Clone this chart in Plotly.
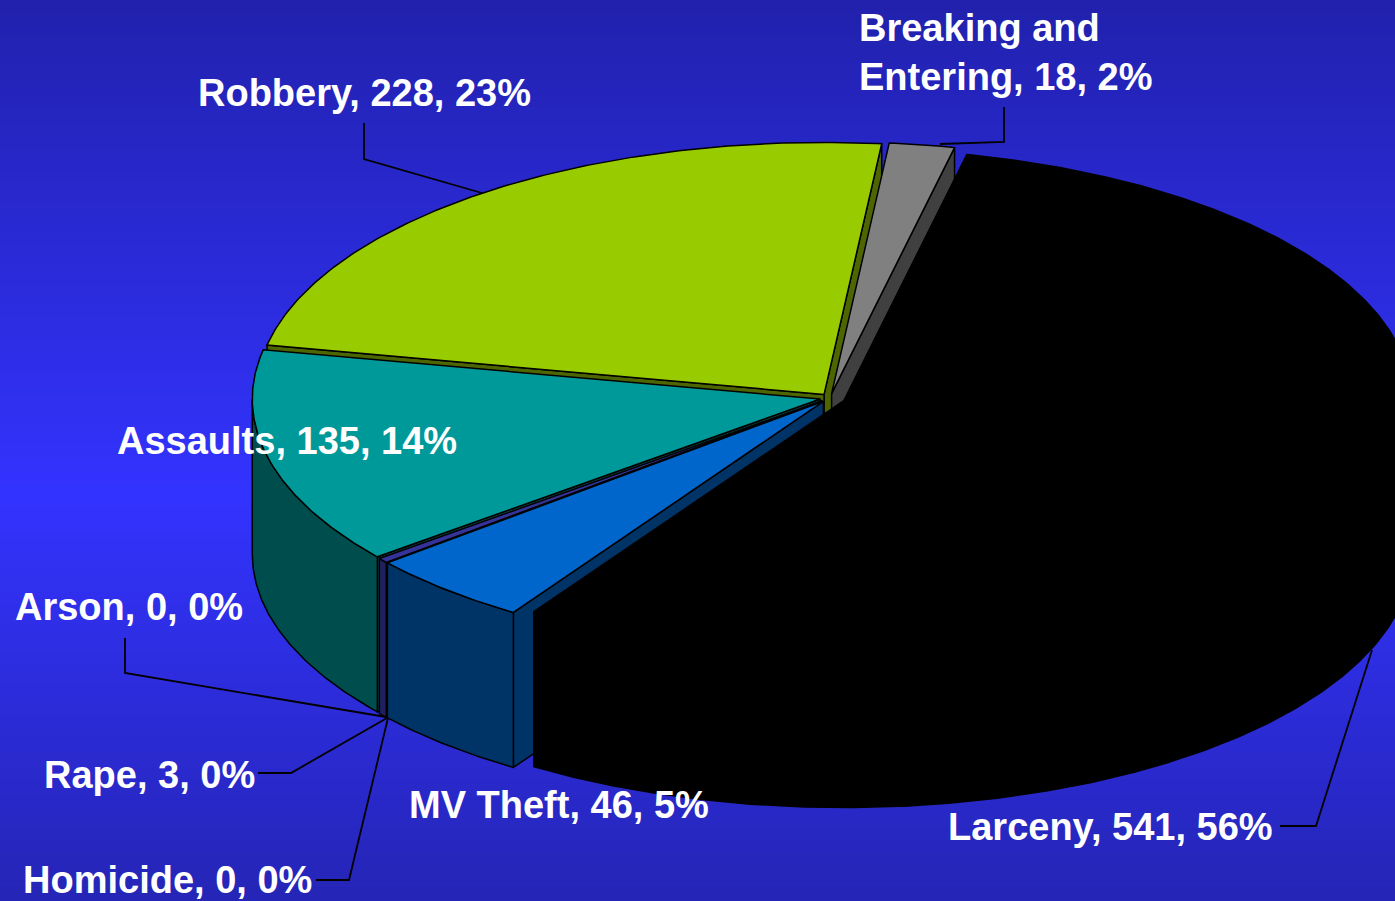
import numpy as np
import plotly.graph_objects as go

# ---------------- data ----------------
categories = ["Larceny", "MV Theft", "Homicide", "Rape", "Arson",
              "Assaults", "Robbery", "Breaking and Entering"]
values = [541, 46, 0, 3, 0, 135, 228, 18]
label_names = ["Larceny", "MV Theft", "Homicide", "Rape", "Arson",
               "Assaults", "Robbery", "Breaking and<br>Entering"]

# ---------------- style ----------------
top_colors = ["#000000", "#0066CC", "#660066", "#333399", "#993366",
              "#009999", "#99CC00", "#808080"]
side_colors = ["#000000", "#003366", "#330033", "#202060", "#4D1933",
               "#004D4D", "#4D6600", "#404040"]
explode = [15, 10, 10, 10, 10, 10, 10, 10]

W, H_PX = 1395, 901
CX, CY = 830.0, 398.0      # pie centre (pixels)
RX, RY = 568.0, 252.0      # ellipse radii
DEPTH = 155.0              # thickness of the pie
START = 12.5               # first slice starts this many degrees clockwise from top

label_pos = {  # left x, centre y of each label
    "Larceny": (946, 827), "MV Theft": (407, 805), "Homicide": (21, 880),
    "Rape": (42, 775), "Arson": (13, 607), "Assaults": (115, 441),
    "Robbery": (196, 93), "Breaking and Entering": (857, 52),
}
leaders = {
    "Robbery": [(364, 123), (364, 159), (482, 193)],
    "Breaking and Entering": [(1004, 107), (1004, 142), (940, 144)],
    "Arson": [(125, 638), (125, 673), (386, 717)],
    "Rape": [(258, 773), (291, 773), (387, 718)],
    "Homicide": [(316, 880), (349, 880), (388, 718)],
    "Larceny": [(1280, 826), (1316, 826), (1372, 650)],
}

fig = go.Figure()

# background gradient (vertical)
def lerp(c1, c2, t):
    return tuple(int(round(a + (b - a) * t)) for a, b in zip(c1, c2))

top_c, mid_c, bot_c = (33, 33, 172), (51, 51, 255), (37, 37, 182)
nb = 150
shapes = []
for i in range(nb):
    y0 = i / nb
    y1 = (i + 1) / nb
    t = (y0 + y1) / 2  # from top
    if t < 0.55:
        c = lerp(top_c, mid_c, t / 0.55)
    else:
        c = lerp(mid_c, bot_c, (t - 0.55) / 0.45)
    shapes.append(dict(type="rect", xref="paper", yref="paper",
                       x0=0, x1=1, y0=1 - y1, y1=1 - y0 + 0.002,
                       fillcolor="rgb(%d,%d,%d)" % c, line=dict(width=0),
                       layer="below"))

total = float(sum(values))
bounds = []
a = START
for v in values:
    span = 360.0 * v / total
    bounds.append((a, a + span))
    a += span


def pt(theta, ox, oy, z=0.0):
    r = np.radians(theta)
    return CX + ox + RX * np.sin(r), CY + oy - RY * np.cos(r) + z


radial_faces, outer_faces, top_faces = [], [], []
for i, (t1, t2) in enumerate(bounds):
    if values[i] == 0:
        continue
    mid = np.radians((t1 + t2) / 2)
    ox = explode[i] * np.sin(mid)
    oy = -explode[i] * np.cos(mid) * RY / RX
    ax, ay = CX + ox, CY + oy
    n = max(3, int((t2 - t1) * 2))
    th = np.linspace(t1, t2, n)
    xs, ys = pt(th, ox, oy)
    top_faces.append((list(np.r_[ax, xs, ax]), list(np.r_[ay, ys, ay]), i))
    # outer curved face (front half only)
    lo, hi = max(t1, 90.0), min(t2, 270.0)
    if hi > lo:
        tt = np.linspace(lo, hi, max(3, int((hi - lo) * 2)))
        xt, yt = pt(tt, ox, oy)
        xb, yb = pt(tt[::-1], ox, oy, DEPTH)
        outer_faces.append((list(np.r_[xt, xb, xt[0]]), list(np.r_[yt, yb, yt[0]]), i))
    # radial faces
    for edge, vis in ((t1, np.sin(np.radians(t1)) < 0), (t2, np.sin(np.radians(t2)) > 0)):
        if vis:
            rx_, ry_ = pt(edge, ox, oy)
            fx = [ax, rx_, rx_, ax, ax]
            fy = [ay, ry_, ry_ + DEPTH, ay + DEPTH, ay]
            depth_key = np.cos(np.radians(edge))
            radial_faces.append((depth_key, fx, fy, i))

radial_faces.sort(key=lambda f: -f[0])


def add_poly(x, y, fill, line="#000000", lw=1.5):
    fig.add_trace(go.Scatter(x=x, y=y, mode="lines", fill="toself",
                             fillcolor=fill, line=dict(color=line, width=lw),
                             hoverinfo="skip", showlegend=False))


for _, fx, fy, i in radial_faces:
    add_poly(fx, fy, side_colors[i])
for fx, fy, i in outer_faces:
    add_poly(fx, fy, side_colors[i])
for fx, fy, i in top_faces:
    add_poly(fx, fy, top_colors[i])

# leader lines
for name, pts in leaders.items():
    fig.add_trace(go.Scatter(x=[p[0] for p in pts], y=[p[1] for p in pts],
                             mode="lines", line=dict(color="#000000", width=1.8),
                             hoverinfo="skip", showlegend=False))

# labels
for name, lab, v in zip(categories, label_names, values):
    pct = int(round(100.0 * v / total))
    txt = "<b>%s, %d, %d%%</b>" % (lab, v, pct)
    x, y = label_pos[name]
    fig.add_annotation(x=x, y=y, xref="x", yref="y", text=txt, showarrow=False,
                       xanchor="left", yanchor="middle", align="left",
                       font=dict(family="Liberation Sans, Arial, sans-serif",
                                 size=38, color="#FFFFFF"))

fig.update_layout(
    width=W, height=H_PX, margin=dict(l=0, r=0, t=0, b=0),
    paper_bgcolor="#2B2BD8", plot_bgcolor="rgba(0,0,0,0)",
    shapes=shapes, showlegend=False,
    xaxis=dict(range=[0, W], visible=False, fixedrange=True),
    yaxis=dict(range=[H_PX, 0], visible=False, fixedrange=True),
)

fig.write_html(
    "out.html",
    config={"displayModeBar": False},
    post_script="document.body.style.margin='0';document.body.style.overflow='hidden';"
                "document.body.style.background='#2B2BD8';",
)
